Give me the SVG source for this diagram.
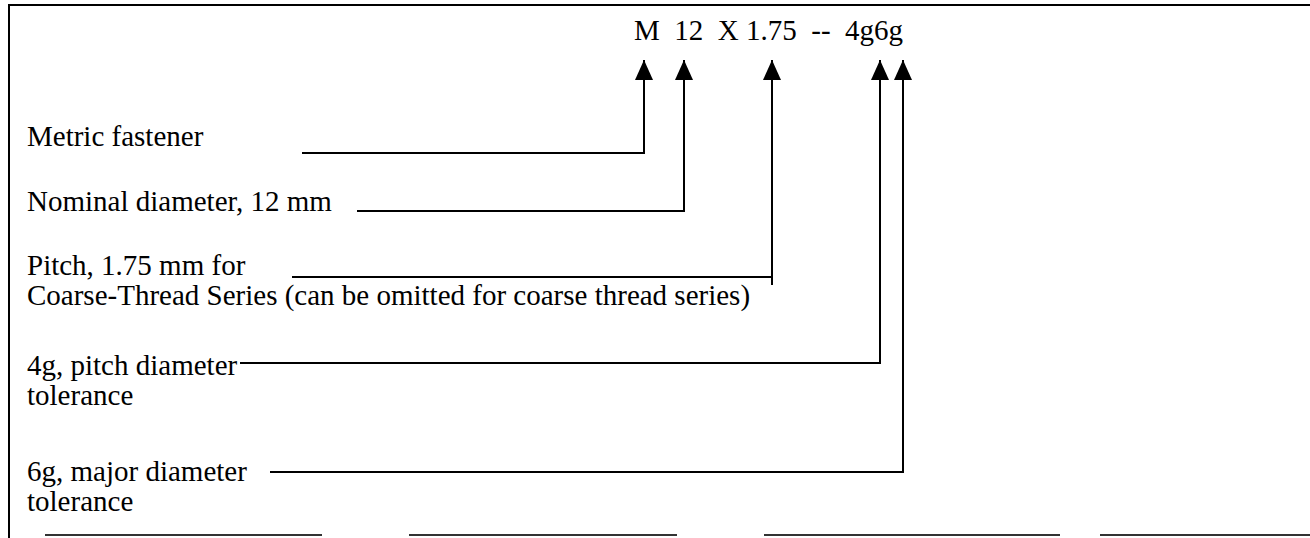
<svg xmlns="http://www.w3.org/2000/svg" width="1310" height="538" viewBox="0 0 1310 538">
<defs>
<style>
text{font-family:"Liberation Serif","Times New Roman",serif;font-size:29px;fill:#000}
.ln{stroke:#000;stroke-width:2;fill:none}
.fr{stroke:#000;stroke-width:2;fill:none}
.fb{stroke:#333;stroke-width:2;fill:none}
</style>
<marker id="ah" viewBox="0 0 20 18" refX="20" refY="9" markerWidth="20" markerHeight="18" markerUnits="userSpaceOnUse" orient="auto">
<path d="M0,0 L20,9 L0,18 Z" fill="#000"/>
</marker>
</defs>
<rect width="1310" height="538" fill="#fff"/>
<g id="frame">
<path class="fr" d="M1310,5 H9 V538"/>
<path class="fb" d="M45,535 H322 M409,535 H677 M764,535 H1060 M1100,535 H1310"/>
</g>
<g id="designation"><text x="634" y="40" xml:space="preserve">M  12  X 1.75  --  4g6g</text></g>
<g id="metric"><text x="27" y="146">Metric fastener</text></g>
<g id="nominal"><text x="27" y="211">Nominal diameter, 12 mm</text></g>
<g id="pitch"><text x="27" y="275">Pitch, 1.75 mm for</text><text x="27" y="305">Coarse-Thread Series (can be omitted for coarse thread series)</text></g>
<g id="tol4g"><text x="27" y="375">4g, pitch diameter</text><text x="27" y="405">tolerance</text></g>
<g id="tol6g"><text x="27" y="481">6g, major diameter</text><text x="27" y="511">tolerance</text></g>
<g id="connectors" class="ln">
<path d="M302,153 H644 V60" marker-end="url(#ah)"/>
<path d="M357,211 H684 V60" marker-end="url(#ah)"/>
<path d="M292,277 H772 M772,285 V60" marker-end="url(#ah)"/>
<path d="M240,363 H880 V60" marker-end="url(#ah)"/>
<path d="M270,472 H903 V60" marker-end="url(#ah)"/>
</g>
</svg>
